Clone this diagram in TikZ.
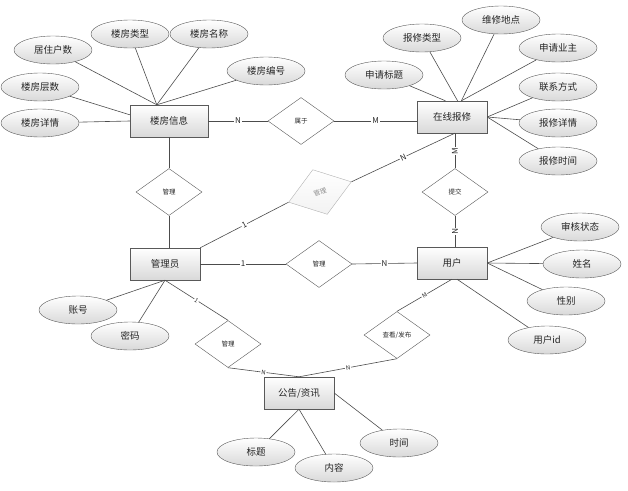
\documentclass[tikz,border=0pt]{standalone}
\usepackage{fontspec}
\setmainfont{Noto Sans CJK SC}
\usetikzlibrary{shapes.geometric}
\tikzset{
  ent/.style={draw=black!65, top color=white, bottom color=black!15, minimum width=70pt, minimum height=32pt, inner sep=0pt, text=black!85, font=\fontsize{9.5}{10}\selectfont},
  attr/.style={ellipse, draw=black!65, top color=white, bottom color=black!15, minimum width=78pt, minimum height=28pt, inner sep=0pt, text=black!85, font=\fontsize{9.5}{10}\selectfont},
  rel/.style={diamond, draw=black!65, fill=white, minimum width=66pt, minimum height=47pt, inner sep=0pt, text=black!85, font=\fontsize{6.5}{7}\selectfont},
  card/.style={sloped, fill=white, inner sep=0.8pt, text=black!85, font=\fontsize{8}{8}\selectfont},
  scard/.style={card, font=\fontsize{6}{6}\selectfont},
  lnk/.style={draw=black!70, line width=0.6pt}
}
\begin{document}
\begin{tikzpicture}[x=1pt,y=-1pt]
  \useasboundingbox (0,0) rectangle (628,490);
  \node[ent, minimum width=78pt] (lfxx) at (169,121) {楼房信息};
  \node[ent] (zxbx) at (452,117) {在线报修};
  \node[ent] (gly) at (165,264) {管理员};
  \node[ent] (yh) at (452,263) {用户};
  \node[ent] (gg) at (299,393) {公告/资讯};

  \node[rel] (sy) at (301,121) {属于};
  \node[rel] (glA) at (169,192) {管理};
  \node[rel, draw=black!30, top color=white, bottom color=black!5, text=black!45, rotate=18] (glB) at (320,192) {管理};
  \node[rel] (glC) at (319,264) {管理};
  \node[rel] (tj) at (455,192) {提交};
  \node[rel] (glD) at (228,344) {管理};
  \node[rel] (ckfb) at (397,335) {查看/发布};

  \node[attr] (jzhs) at (53,50) {居住户数};
  \node[attr] (lflx) at (130,34) {楼房类型};
  \node[attr] (lfmc) at (209,34) {楼房名称};
  \node[attr] (lfbh) at (266,71) {楼房编号};
  \node[attr] (lfcs) at (40,87) {楼房层数};
  \node[attr] (lfxq) at (40,123) {楼房详情};

  \node[attr] (sqbt) at (384,75) {申请标题};
  \node[attr] (bxlx) at (422,38) {报修类型};
  \node[attr] (wxdd) at (501,20) {维修地点};
  \node[attr] (sqyz) at (558,48) {申请业主};
  \node[attr] (lxfs) at (558,87) {联系方式};
  \node[attr] (bxxq) at (558,123) {报修详情};
  \node[attr] (bxsj) at (558,161) {报修时间};

  \node[attr] (shzt) at (580,227) {审核状态};
  \node[attr] (xm) at (582,264) {姓名};
  \node[attr] (xb) at (566,301) {性别};
  \node[attr] (yhid) at (547,340) {用户id};

  \node[attr] (zh) at (78,310) {账号};
  \node[attr] (mm) at (130,336) {密码};

  \node[attr] (bt) at (256,452) {标题};
  \node[attr] (nr) at (334,468) {内容};
  \node[attr] (sj) at (399,443) {时间};

  \foreach \a in {jzhs,lflx,lfmc,lfbh} \draw[lnk] (\a) -- (lfxx.127);
  \draw[lnk] (lfcs) -- (lfxx.171);
  \draw[lnk] (lfxq) -- (lfxx.west);
  \draw[lnk] (sqbt) -- (zxbx.112);
  \draw[lnk] (bxlx) -- (zxbx.71);
  \foreach \a in {wxdd,sqyz} \draw[lnk] (\a) -- (zxbx.60);
  \foreach \a in {lxfs,bxxq,bxsj} \draw[lnk] (\a) -- (zxbx.east);
  \foreach \a in {shzt,xm,xb} \draw[lnk] (\a) -- (yh.east);
  \draw[lnk] (yhid) -- (yh.-73);
  \foreach \a in {zh,mm} \draw[lnk] (\a) -- (gly.south);
  \foreach \a in {bt,nr} \draw[lnk] (\a) -- (gg.south);
  \draw[lnk] (sj) -- (gg.east);

  \draw[lnk] (lfxx.east) -- node[card]{N} (sy.west);
  \draw[lnk] (sy.east) -- node[card]{M} (sy.east -| zxbx.west);
  \draw[lnk] (lfxx.south) -- (glA.north);
  \draw[lnk] (glA.south) -- (glA.south |- gly.north);
  \draw[lnk, black!70] (gly.north east) -- node[card]{1} (glB.west);
  \draw[lnk] (glB.east) -- node[card]{N} (zxbx.-80);
  \draw[lnk] (gly.east) -- node[card]{1} (glC.west);
  \draw[lnk] (glC.east) -- node[card]{N} (yh.west);
  \draw[lnk] (tj.north) -- node[card]{M} (tj.north |- zxbx.south);
  \draw[lnk] (tj.south) -- node[card]{N} (tj.south |- yh.north);
  \draw[lnk] (gly.south) -- node[scard]{1} (glD.north);
  \draw[lnk] (glD.south) -- node[scard]{N} (gg.north);
  \draw[lnk] (yh.south) -- node[scard]{M} (ckfb.north);
  \draw[lnk] (ckfb.south) -- node[scard]{N} (gg.north);
\end{tikzpicture}
\end{document}
